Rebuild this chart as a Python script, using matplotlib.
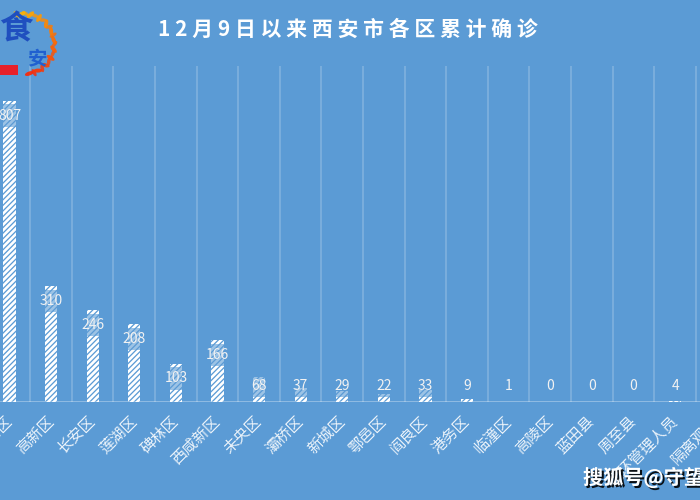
import matplotlib
matplotlib.use('Agg')
import matplotlib.pyplot as plt
import matplotlib.patheffects as pe
from matplotlib.patches import Ellipse, Rectangle
import numpy as np

plt.rcParams['font.family'] = ['Noto Sans CJK SC', 'DejaVu Sans']
plt.rcParams['hatch.linewidth'] = 1.9

# Cumulative confirmed cases per district
districts = ['雁塔区', '高新区', '长安区', '莲湖区', '碑林区', '西咸新区', '未央区',
             '灞桥区', '新城区', '鄠邑区', '阎良区', '港务区', '临潼区', '高陵区',
             '蓝田县', '周至县', '闭环管理人员', '隔离观察']
cases = [807, 310, 246, 208, 103, 166, 68, 37, 29, 22, 33, 9, 1, 0, 0, 0, 4, 0]
title = '12月9日以来西安市各区累计确诊'
watermark = '搜狐号@守望'

BG = '#5B9BD5'
W, H = 700, 500

fig = plt.figure(figsize=(7, 5), dpi=100, facecolor=BG)
ax = fig.add_axes([-11.3 / W, 98 / H, 748.8 / W, 336 / H], facecolor=BG)

x = np.arange(len(districts))
ax.bar(x, cases, width=0.29, color=BG, edgecolor='white', linewidth=0,
       hatch='//////', zorder=2)
ax.set_xlim(-0.5, len(districts) - 0.5)
ax.set_ylim(0, 900)

# category separators and baseline
for b in np.arange(-0.5, len(districts)):
    ax.axvline(b, color='white', alpha=0.22, lw=1.2, zorder=1)
ax.axhline(0, color='white', alpha=0.35, lw=2, zorder=3)
for s in ax.spines.values():
    s.set_visible(False)
ax.set_yticks([])

ax.set_xticks(x)
ax.set_xticklabels(districts, rotation=45, ha='right', va='center',
                   rotation_mode='anchor', fontsize=11, color='white')
for lbl in ax.get_xticklabels():
    lbl.set_alpha(0.88)
ax.tick_params(axis='x', length=0, pad=12)

# value labels, inside the bar end (pushed up for short bars)
for xi, v in zip(x, cases):
    ax.text(xi, max(v - 40, 43), str(v), ha='center', va='center',
            fontsize=10, color='#F2F2F2', zorder=4,
            bbox=dict(boxstyle='square,pad=0.3', fc=BG, ec='none', alpha=0.6))

fig.text(0.497, 1 - 29 / H, ' '.join(title), ha='center', va='center',
         fontsize=15, fontweight='bold', color='white')

# overlay in pixel coordinates for the badge and the watermark
ov = fig.add_axes([0, 0, 1, 1], facecolor='none')
ov.set_xlim(0, W)
ov.set_ylim(H, 0)
ov.axis('off')

cx, cy, r = 24, 44, 30
for ang in np.linspace(-80, 95, 11):
    t = np.deg2rad(ang)
    px, py = cx + r * np.cos(t), cy - r * np.sin(t)
    col = plt.cm.autumn_r(0.3 + 0.55 * (1 - (ang + 80) / 175))
    ov.add_patch(Ellipse((px, py), 9, 4, angle=ang + 60, fc=col, ec='none', alpha=0.9))
    ov.add_patch(Ellipse((px - 5 * np.sin(t), py - 5 * np.cos(t)), 8, 3.5, angle=ang - 40,
                         fc=col, ec='none', alpha=0.8))
ov.text(16, 30, '食', fontsize=24, color='#1F4FBF', ha='center', va='center',
        fontstyle='italic', fontweight='bold')
ov.text(38, 60, '安', fontsize=14, color='#2060D0', ha='center', va='center',
        fontweight='bold')
ov.add_patch(Rectangle((0, 65), 18, 10, fc='#E8202A', ec='none'))

ov.text(583, 478, watermark, fontsize=14.5, fontweight='bold', color='white',
        ha='left', va='center',
        path_effects=[pe.withSimplePatchShadow(offset=(1.5, -1.5),
                                               shadow_rgbFace='black', alpha=0.9)])

fig.savefig('out.png', dpi=100, facecolor=BG)
